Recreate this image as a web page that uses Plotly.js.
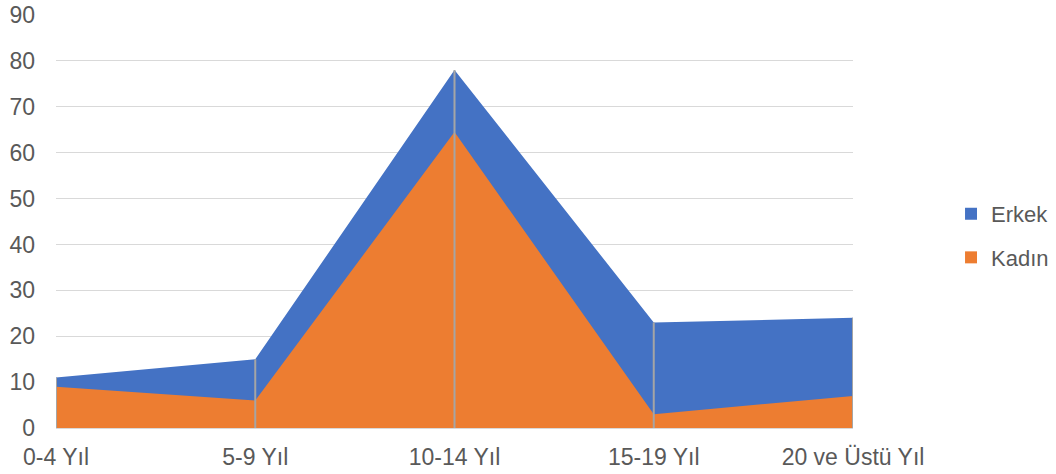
<!DOCTYPE html>
<html>
<head>
<meta charset="utf-8">
<script src="https://cdn.plot.ly/plotly-3.0.1.min.js"></script>
<style>
  html, body { margin: 0; padding: 0; background: #fff; }
  #chart { width: 1056px; height: 474px; }
</style>
</head>
<body>
<div id="chart"></div>
<script>
// Age groups and counts by sex
const ageGroups = ['0-4 Yıl', '5-9 Yıl', '10-14 Yıl', '15-19 Yıl', '20 ve Üstü Yıl'];
const erkek = [11, 15, 78, 23, 24];
const kadin = [9, 6, 64.5, 3, 7];
const yTicks = [0, 10, 20, 30, 40, 50, 60, 70, 80, 90];

const BLUE = '#4472C4';
const ORANGE = '#ED7D31';
const TEXT = '#595959';
const FONT = 'Liberation Sans, Arial, sans-serif';
const FS = 23;

// Vertical drop lines from the axis up to the taller series at each group
const dropX = [], dropY = [];
ageGroups.forEach((g, i) => {
  const top = Math.max(erkek[i], kadin[i]);
  dropX.push(g, g, null);
  dropY.push(0, top, null);
});

const traces = [
  {
    x: ageGroups, y: erkek, type: 'scatter', mode: 'lines',
    fill: 'tozeroy', fillcolor: BLUE, line: { width: 0, color: BLUE },
    name: 'Erkek', showlegend: false, hoverinfo: 'x+y+name'
  },
  {
    x: ageGroups, y: kadin, type: 'scatter', mode: 'lines',
    fill: 'tozeroy', fillcolor: ORANGE, line: { width: 0, color: ORANGE },
    name: 'Kadın', showlegend: false, hoverinfo: 'x+y+name'
  },
  {
    x: dropX, y: dropY, type: 'scatter', mode: 'lines',
    line: { color: '#A5A5A5', width: 2 },
    showlegend: false, hoverinfo: 'skip'
  },
  // Legend keys (square swatches)
  {
    x: [null], y: [null], type: 'scatter', mode: 'markers', name: 'Erkek',
    legendgroup: 'e',
    marker: { symbol: 'square', size: 12, color: BLUE }
  },
  {
    x: [null], y: [null], type: 'scatter', mode: 'markers', name: 'Kadın',
    legendgroup: 'k',
    marker: { symbol: 'square', size: 12, color: ORANGE }
  }
];

const layout = {
  width: 1056, height: 474,
  margin: { l: 56, r: 203, t: 15, b: 46, pad: 0, autoexpand: false },
  paper_bgcolor: '#fff', plot_bgcolor: '#fff',
  font: { family: FONT, size: FS, color: TEXT },
  showlegend: true,
  legend: {
    x: 1.123, xanchor: 'left', y: 0.465, yanchor: 'middle',
    traceorder: 'grouped', tracegroupgap: 12,
    itemwidth: 30,
    font: { family: FONT, size: FS - 1, color: TEXT },
    bgcolor: 'rgba(0,0,0,0)'
  },
  xaxis: {
    type: 'category', range: [0, ageGroups.length - 1],
    showgrid: false, zeroline: false,
    showline: true, linecolor: '#D9D9D9', linewidth: 1,
    ticks: '', ticklabelstandoff: 8,
    tickfont: { family: FONT, size: FS, color: TEXT },
    fixedrange: true
  },
  yaxis: {
    range: [0, 90], tickvals: yTicks, ticktext: yTicks.map(String),
    showgrid: true, gridcolor: '#D9D9D9', gridwidth: 1,
    zeroline: false, showline: false,
    ticks: '', ticklabelstandoff: 20,
    tickfont: { family: FONT, size: FS, color: TEXT },
    fixedrange: true
  }
};

Plotly.newPlot('chart', traces, layout, { displayModeBar: false, staticPlot: true });
</script>
</body>
</html>
